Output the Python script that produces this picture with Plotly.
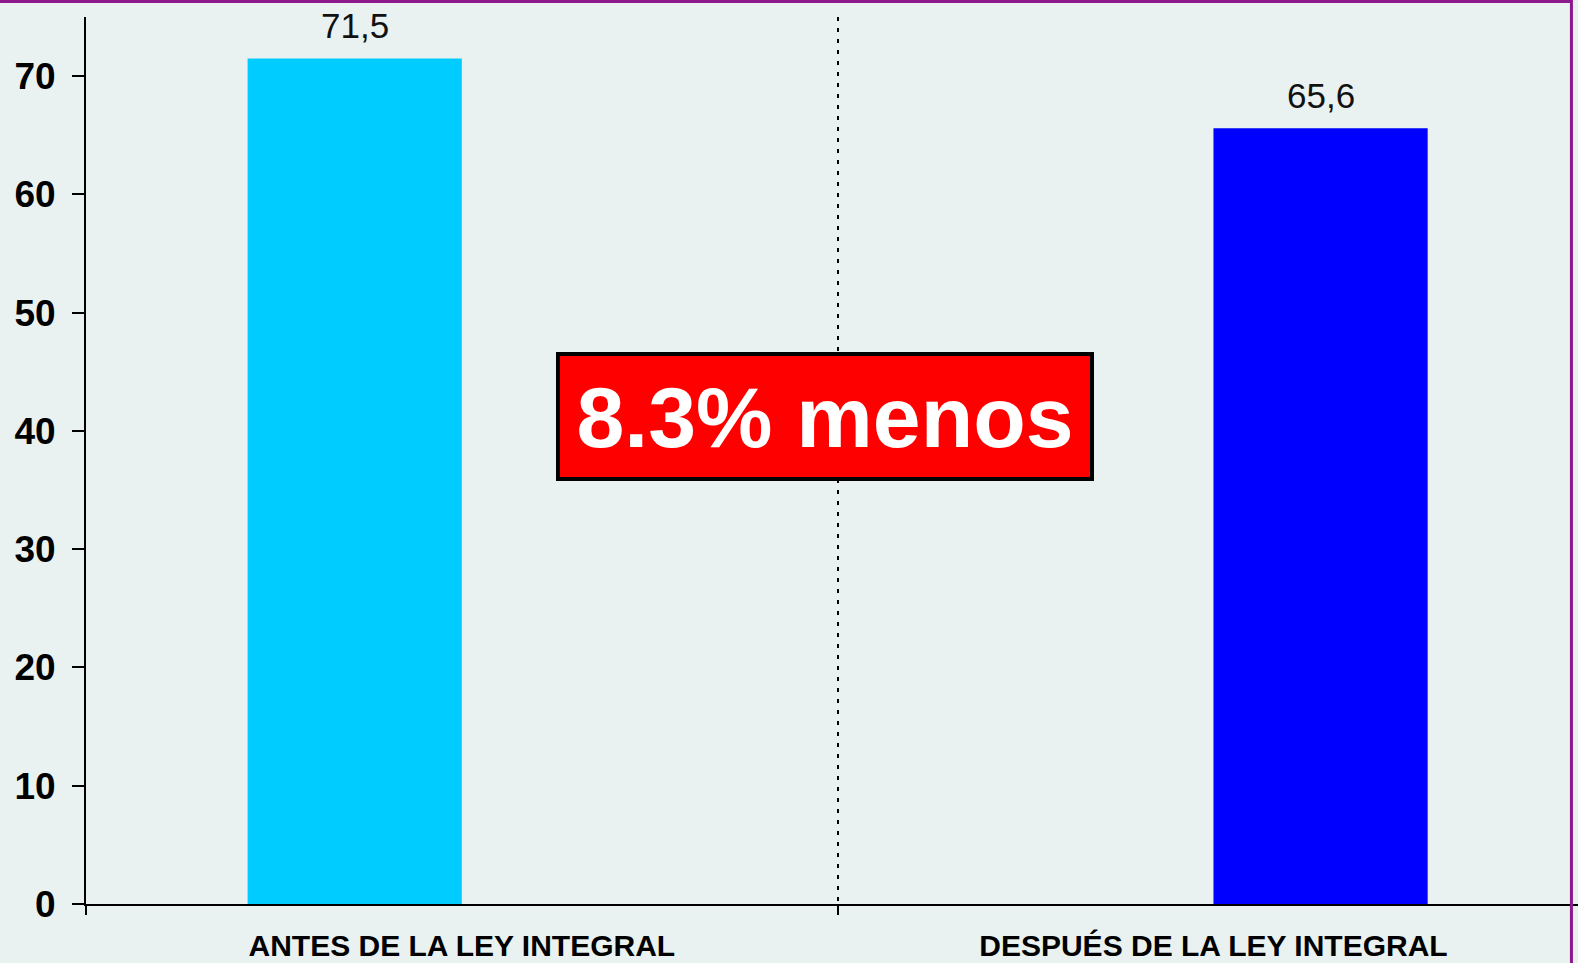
import plotly.graph_objects as go

categories = ["ANTES DE LA LEY INTEGRAL", "DESPUÉS DE LA LEY INTEGRAL"]
series_names = ["Antes", "Después"]
series_values = [[71.5, None], [None, 65.6]]
series_colors = ["#00CCFF", "#0000FF"]
y_ticks = [0, 10, 20, 30, 40, 50, 60, 70]
callout_text = "8.3% menos"

BG = "#EAF2F1"
PURPLE = "#8C1A8C"
FONT = "Liberation Sans, Arial, sans-serif"
BARGAP = 0.43

fig = go.Figure()
for name, vals, col in zip(series_names, series_values, series_colors):
    fig.add_trace(go.Bar(x=categories, y=vals, name=name, marker=dict(color=col, line=dict(width=0)),
                         hoverinfo="skip"))

annotations = []
barw = (1 - BARGAP) / 2
for s, vals in enumerate(series_values):
    for i, v in enumerate(vals):
        if v is None:
            continue
        off = (s - 0.5) * barw
        annotations.append(dict(x=i + off, y=v, xref="x", yref="y", text=f"{v:.1f}".replace(".", ","),
                                showarrow=False, yanchor="bottom", yshift=11,
                                font=dict(family=FONT, size=35, color="#111111")))

annotations.append(dict(xref="paper", yref="paper", x=0.4955, y=0.5497, xanchor="center", yanchor="middle",
                        text="<b>" + callout_text + "</b>", showarrow=False,
                        font=dict(family=FONT, size=86, color="white"),
                        bgcolor="#FF0000", bordercolor="#000000", borderwidth=4, borderpad=0,
                        width=530, height=121, valign="middle"))

fig.update_layout(
    width=1578, height=963,
    margin=dict(l=86, r=0, t=17, b=59, pad=0, autoexpand=False),
    paper_bgcolor=BG, plot_bgcolor=BG,
    barmode="group", bargap=BARGAP, bargroupgap=0,
    showlegend=False,
    annotations=annotations,
    shapes=[
        dict(type="line", xref="paper", yref="paper", x0=-0.06, x1=0.9956, y0=1.0175, y1=1.0175,
             line=dict(color=PURPLE, width=3)),
        dict(type="line", xref="paper", yref="paper", x0=0.9956, x1=0.9956, y0=1.0192, y1=-0.07,
             line=dict(color=PURPLE, width=3)),
    ],
)

fig.update_xaxes(
    type="category", range=[-0.5, 1.485], automargin=False,
    showline=True, linecolor="black", linewidth=2,
    ticks="outside", tickson="boundaries", ticklen=9, tickwidth=2, tickcolor="black",
    showgrid=True, gridcolor="black", gridwidth=2, griddash="4px,7px",
    tickfont=dict(family=FONT, size=30, color="black", weight="bold"),
    ticklabelstandoff=14,
    zeroline=False, fixedrange=True,
)
fig.update_yaxes(
    range=[0, 75], tickvals=y_ticks, automargin=False,
    showline=True, linecolor="black", linewidth=2,
    ticks="outside", ticklen=12, tickwidth=2, tickcolor="black",
    showgrid=False, zeroline=False,
    tickfont=dict(family=FONT, size=37, color="black", weight="bold"),
    ticklabelstandoff=9, fixedrange=True,
)

fig.write_html("out.html", config={"displayModeBar": False},
               post_script="document.body.style.margin='0';document.body.style.background='" + BG + "';")
